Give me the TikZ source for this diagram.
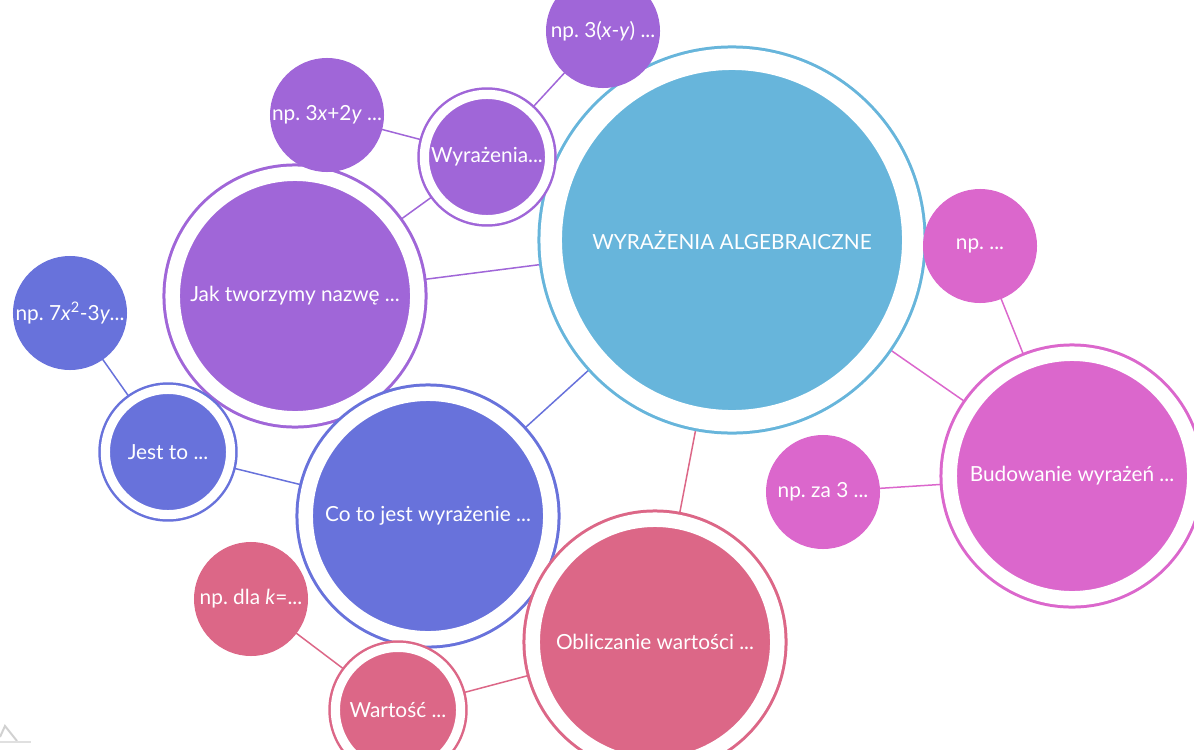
\documentclass[tikz,border=0pt]{standalone}
\usepackage{fontspec}
\setmainfont{Lato}
\usetikzlibrary{backgrounds}
\frenchspacing

\definecolor{niebieski}{HTML}{67B5DB}
\definecolor{fiolet}{HTML}{A066D8}
\definecolor{indygo}{HTML}{6872DB}
\definecolor{roz}{HTML}{DB67CC}
\definecolor{malina}{HTML}{DC6787}

\begin{document}
\begin{tikzpicture}[x=0.025cm,y=-0.025cm,font=\fontsize{14.8}{17}\selectfont,
  bubble/.style={circle,fill=#1,text=white,inner sep=0pt},
  leaf/.style={bubble=#1,minimum size=2.85cm},
  ring/.style={bubble=#1,draw=#1,double=white,line width=0.075cm,minimum size=6.1125cm,double distance=0.3625cm},
  smallring/.style={bubble=#1,draw=#1,double=white,line width=0.0625cm,minimum size=3.13cm,double distance=0.23cm},
  mainring/.style={bubble=#1,draw=#1,double=white,line width=0.075cm,minimum size=9.0375cm,double distance=0.5375cm}]
\useasboundingbox (0,0) rectangle (1194,749);

% main topic
\node [mainring=niebieski] (main) at (732,240) {WYRAŻENIA ALGEBRAICZNE};

% branches
\node [ring=fiolet] (jak) at (295,296) {Jak tworzymy nazwę ...};
\node [ring=indygo] (coto) at (428,516) {Co to jest wyrażenie ...};
\node [ring=malina] (oblicz) at (655,642) {Obliczanie wartości ...};
\node [ring=roz] (buduj) at (1072,476) {Budowanie wyrażeń ...};

\node [smallring=fiolet] (wyr) at (487,157) {Wyrażenia...};
\node [smallring=indygo] (jest) at (168,452) {Jest to ...};
\node [smallring=malina] (wart) at (398,710) {Wartość ...};

% examples
\node [leaf=fiolet] (npa) at (327,115) {np. 3\textit{x}+2\textit{y} ...};
\node [leaf=fiolet] (npb) at (603,31) {np. 3(\textit{x}-\textit{y}) ...};
\node [leaf=indygo] (npc) at (70,313) {np. 7\textit{x}\textsuperscript{2}-3\textit{y}...};
\node [leaf=roz] (npd) at (980,246) {np. ...};
\node [leaf=roz] (npe) at (823,492) {np. za 3 ...};
\node [leaf=malina] (npf) at (251,599) {np. dla \textit{k}=...};

\begin{pgfonlayer}{background}
\foreach \a/\b/\c in {main/jak/fiolet,main/coto/indygo,main/oblicz/malina,main/buduj/roz,
  jak/wyr/fiolet,wyr/npa/fiolet,wyr/npb/fiolet,coto/jest/indygo,jest/npc/indygo,
  buduj/npd/roz,buduj/npe/roz,oblicz/wart/malina,wart/npf/malina}
  \draw [\c,line width=0.0375cm] (\a.center) -- (\b.center);
\end{pgfonlayer}

% corner mark
\draw [black!18,line width=0.05cm] (0,737) -- (5,726) -- (17,741);
\draw [black!12,line width=0.05cm] (0,742) -- (31,742);
\end{tikzpicture}
\end{document}
